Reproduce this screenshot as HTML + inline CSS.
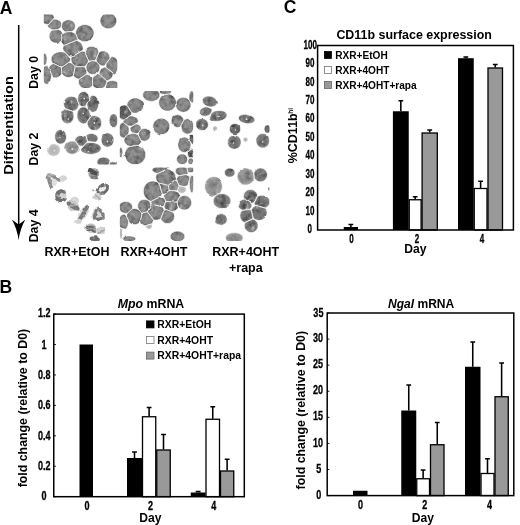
<!DOCTYPE html>
<html lang="en"><head><meta charset="utf-8"><title>Figure</title>
<style>
html,body{margin:0;padding:0;background:#fff;overflow:hidden}
svg{display:block;will-change:transform}
text{font-family:"Liberation Sans",Arial,Helvetica,sans-serif;font-weight:bold;fill:#000}
.tk{stroke:#000;stroke-width:0.3px}
.lab{font-size:12.5px}
.leg{font-size:10.4px}
.tk{font-size:11.9px}
.it{font-style:italic}
</style></head><body>
<svg width="520" height="525" viewBox="0 0 520 525">
<defs>
<filter id="cf" x="-5%" y="-5%" width="110%" height="110%" color-interpolation-filters="sRGB">
  <feTurbulence type="fractalNoise" baseFrequency="0.2" numOctaves="2" seed="7" result="n"/>
  <feColorMatrix in="n" type="matrix" values="0 0 0 0 0  0 0 0 0 0  0 0 0 0 0  1.2 0 0 0 -0.52" result="dk"/>
  <feColorMatrix in="n" type="matrix" values="0 0 0 0 1  0 0 0 0 1  0 0 0 0 1  0 -2.0 0 0 0.78" result="lt"/>
  <feColorMatrix in="SourceGraphic" type="matrix" values="1 0 0 0 0  0 1 0 0 0  0 0 1 0 0  -3.5 0 0 0 2.6" result="mk0"/>
  <feComposite in="mk0" in2="SourceAlpha" operator="in" result="mk"/>
  <feComposite in="dk" in2="mk" operator="in" result="dkIn"/>
  <feComposite in="lt" in2="mk" operator="in" result="ltIn"/>
  <feMerge result="m"><feMergeNode in="SourceGraphic"/><feMergeNode in="dkIn"/><feMergeNode in="ltIn"/></feMerge>
  <feTurbulence type="fractalNoise" baseFrequency="0.12" numOctaves="2" seed="21" result="t2"/>
  <feDisplacementMap in="m" in2="t2" scale="2.2" xChannelSelector="R" yChannelSelector="G" result="d2"/>
  <feGaussianBlur in="d2" stdDeviation="0.5"/>
</filter>
<radialGradient id="g1" cx="0.5" cy="0.5" r="0.62"><stop offset="0" stop-color="#939393"/><stop offset="0.55" stop-color="#8b8b8b"/><stop offset="0.85" stop-color="#787878"/><stop offset="1" stop-color="#6c6c6c"/></radialGradient>
<radialGradient id="g2" cx="0.5" cy="0.5" r="0.62"><stop offset="0" stop-color="#727272"/><stop offset="0.6" stop-color="#6a6a6a"/><stop offset="1" stop-color="#585858"/></radialGradient>
<radialGradient id="g6" cx="0.5" cy="0.5" r="0.6"><stop offset="0" stop-color="#707070"/><stop offset="0.55" stop-color="#7a7a7a"/><stop offset="0.85" stop-color="#939393"/><stop offset="1" stop-color="#b0b0b0"/></radialGradient>
<radialGradient id="g3" cx="0.5" cy="0.5" r="0.6"><stop offset="0" stop-color="#8a8a8a"/><stop offset="0.6" stop-color="#9a9a9a"/><stop offset="1" stop-color="#b4b4b4"/></radialGradient>
<radialGradient id="g4" cx="0.5" cy="0.5" r="0.6"><stop offset="0" stop-color="#b0b0b0"/><stop offset="0.7" stop-color="#c2c2c2"/><stop offset="1" stop-color="#dcdcdc"/></radialGradient>
<radialGradient id="g5" cx="0.5" cy="0.5" r="0.55"><stop offset="0" stop-color="#d8d8d8"/><stop offset="0.25" stop-color="#7a7a7a"/><stop offset="0.7" stop-color="#808080"/><stop offset="1" stop-color="#a0a0a0"/></radialGradient>
<filter id="cf2" x="-10%" y="-10%" width="120%" height="120%" color-interpolation-filters="sRGB">
  <feTurbulence type="fractalNoise" baseFrequency="0.16" numOctaves="2" seed="11" result="t"/>
  <feDisplacementMap in="SourceGraphic" in2="t" scale="3.4" xChannelSelector="R" yChannelSelector="G" result="d"/>
  <feTurbulence type="fractalNoise" baseFrequency="0.3" numOctaves="2" seed="5" result="n"/>
  <feColorMatrix in="n" type="matrix" values="0 0 0 0 1  0 0 0 0 1  0 0 0 0 1  1.5 0 0 0 -0.78" result="lt"/>
  <feComposite in="lt" in2="d" operator="in" result="ltIn"/>
  <feMerge result="m"><feMergeNode in="d"/><feMergeNode in="ltIn"/></feMerge>
  <feGaussianBlur in="m" stdDeviation="0.55"/>
</filter>

<clipPath id="ct1"><rect x="0" y="0" width="73.5" height="73.5"/></clipPath>
<clipPath id="ct2"><rect x="0" y="0" width="73.5" height="73.5"/></clipPath>
<clipPath id="ct3"><rect x="0" y="0" width="73.5" height="73.5"/></clipPath>
<clipPath id="ct4"><rect x="0" y="0" width="73.5" height="73.5"/></clipPath>
<clipPath id="ct5"><rect x="0" y="0" width="73.5" height="73.5"/></clipPath>
<clipPath id="ct6"><rect x="0" y="0" width="73.5" height="73.5"/></clipPath>
<clipPath id="ct7"><rect x="0" y="0" width="73.5" height="73.5"/></clipPath>
</defs>
<rect width="520" height="525" fill="#fff"/>
<g transform="translate(43.8,14.6)"><g clip-path="url(#ct1)"><g filter="url(#cf)">
<path d="M4.9 9.8 L3.8 9.9 L2.3 9.7 L0.9 9.3 L-0.4 8.6 L-1.5 7.6 L-2.3 6.4 L-2.8 5.2 L-3.0 3.8 L-2.8 2.4 L-2.3 1.2 L-1.5 -0.0 L-0.4 -1.0 L0.9 -1.7 L2.3 -2.1 L3.8 -2.3 L5.3 -2.1 L6.7 -1.7 L8.0 -1.0 L9.1 -0.0 L9.9 1.2 L10.4 2.4 L10.5 3.5Z" fill="url(#g1)" stroke="#fff" stroke-width="0.7" stroke-linejoin="round"/>
<path d="M17.4 12.1 L17.2 12.4 L16.4 13.4 L15.2 14.2 L13.9 14.9 L13.1 15.1 L10.7 15.4 L9.2 15.3 L7.7 14.9 L6.4 14.2 L5.2 13.4 L4.4 12.4 L3.9 11.2 L3.8 11.0 L9.5 4.7 L10.8 4.6 L12.4 4.7 L13.9 5.1 L15.2 5.8 L16.4 6.6 L17.2 7.6 L17.7 8.7Z" fill="url(#g1)" stroke="#fff" stroke-width="0.7" stroke-linejoin="round"/>
<path d="M31.6 11.5 L31.4 12.9 L30.9 14.2 L30.1 15.4 L29.0 16.4 L27.9 17.0 L22.2 17.4 L21.6 17.2 L20.2 16.4 L19.1 15.4 L18.3 14.2 L17.8 12.9 L17.6 11.5 L17.8 10.1 L18.3 8.8 L19.1 7.6 L20.2 6.6 L21.6 5.8 L23.0 5.3 L24.6 5.2 L26.2 5.3 L27.6 5.8 L29.0 6.6 L30.1 7.6 L30.9 8.8 L31.4 10.1Z" fill="url(#g1)" stroke="#fff" stroke-width="0.7" stroke-linejoin="round"/>
<path d="M73.0 6.2 L72.8 8.0 L72.1 9.6 L71.1 11.1 L69.8 12.4 L68.2 13.3 L66.5 13.9 L64.6 14.1 L62.7 13.9 L61.0 13.3 L59.4 12.4 L58.1 11.1 L57.1 9.6 L56.4 8.0 L56.2 6.2 L56.4 4.4 L57.1 2.8 L58.1 1.3 L59.4 0.0 L61.0 -0.9 L62.7 -1.5 L64.6 -1.7 L66.5 -1.5 L68.2 -0.9 L69.8 0.0 L71.1 1.3 L72.1 2.8 L72.8 4.4Z" fill="url(#g1)" stroke="#fff" stroke-width="0.7" stroke-linejoin="round"/>
<path d="M50.3 18.5 L50.0 20.4 L49.3 22.2 L48.2 23.9 L46.8 25.2 L45.0 26.2 L43.1 26.9 L41.0 27.1 L38.9 26.9 L37.0 26.2 L35.2 25.2 L33.8 23.9 L33.5 23.5 L31.8 19.1 L31.7 18.5 L32.0 16.6 L32.7 14.8 L33.8 13.1 L35.2 11.8 L37.0 10.8 L38.9 10.1 L41.0 9.9 L43.1 10.1 L45.0 10.8 L46.8 11.8 L48.2 13.1 L49.3 14.8 L50.0 16.6Z" fill="url(#g1)" stroke="#fff" stroke-width="0.7" stroke-linejoin="round"/>
<path d="M17.5 26.2 L16.7 27.0 L15.3 27.8 L13.9 28.3 L12.3 28.5 L10.7 28.3 L9.3 27.8 L7.9 27.0 L6.8 25.9 L6.0 24.5 L5.5 23.1 L5.3 21.5 L5.5 19.9 L6.0 18.5 L6.8 17.1 L7.9 16.0 L8.4 15.7 L14.5 14.9 L15.3 15.2 L16.7 16.0 L17.8 17.1 L18.6 18.5 L19.0 19.6Z" fill="url(#g1)" stroke="#fff" stroke-width="0.7" stroke-linejoin="round"/>
<path d="M34.0 24.7 L33.9 25.3 L20.5 30.9 L20.0 30.6 L18.7 29.4 L17.7 27.9 L17.3 27.0 L19.0 19.5 L20.0 18.6 L21.7 17.7 L22.7 17.4 L27.1 17.1 L27.3 17.1 L29.1 17.7 L30.8 18.6 L32.1 19.8Z" fill="url(#g1)" stroke="#fff" stroke-width="0.7" stroke-linejoin="round"/>
<path d="M39.4 33.8 L39.1 35.6 L28.5 42.3 L26.9 42.2 L24.8 41.5 L24.4 41.3 L19.3 35.6 L19.0 33.8 L19.3 31.9 L19.6 31.2 L32.7 25.8 L33.6 26.1 L35.5 27.1 L37.2 28.4 L38.4 30.1 L39.1 31.9Z" fill="url(#g1)" stroke="#fff" stroke-width="0.7" stroke-linejoin="round"/>
<path d="M52.1 45.1 L50.8 45.9 L50.2 46.1 L46.6 46.5 L46.1 46.5 L44.6 46.0 L40.7 37.4 L41.2 36.0 L42.0 34.6 L43.2 33.4 L44.6 32.5 L46.1 31.9 L47.7 31.7 L49.3 31.9 L50.8 32.5 L52.2 33.4 L53.4 34.6 L54.2 36.0 L54.8 37.5 L54.8 38.2Z" fill="url(#g1)" stroke="#fff" stroke-width="0.7" stroke-linejoin="round"/>
<path d="M26.7 44.6 L26.5 46.3 L26.1 47.0 L19.3 51.8 L19.2 51.9 L17.0 52.1 L15.8 52.0 L8.9 48.6 L8.2 47.8 L7.5 46.3 L7.3 44.6 L7.5 42.9 L8.2 41.4 L9.4 40.0 L10.9 38.8 L12.8 37.9 L14.8 37.3 L17.0 37.1 L19.2 37.3 L21.2 37.9 L21.4 38.0 L26.6 43.9Z" fill="url(#g1)" stroke="#fff" stroke-width="0.7" stroke-linejoin="round"/>
<path d="M44.7 46.0 L44.6 46.5 L43.9 48.3 L42.9 50.0 L41.5 51.3 L40.1 52.2 L31.9 52.2 L30.9 51.5 L28.5 49.1 L28.1 48.3 L27.4 46.5 L27.2 44.6 L27.4 43.0 L38.1 36.3 L39.8 36.9 L40.7 37.4Z" fill="url(#g1)" stroke="#fff" stroke-width="0.7" stroke-linejoin="round"/>
<path d="M66.2 43.8 L66.2 43.9 L60.8 51.0 L60.8 51.1 L59.2 51.3 L57.6 51.1 L56.2 50.5 L55.5 50.1 L53.2 47.6 L52.9 47.0 L52.4 45.5 L52.3 44.6 L55.0 37.9 L56.2 37.1 L57.6 36.5 L59.2 36.3 L60.8 36.5 L62.2 37.1 L63.6 38.0 L64.7 39.2 L65.5 40.6 L66.0 42.1Z" fill="url(#g1)" stroke="#fff" stroke-width="0.7" stroke-linejoin="round"/>
<path d="M74.8 50.8 L74.7 52.8 L74.2 54.6 L73.4 56.3 L72.4 57.7 L71.2 58.7 L70.4 59.2 L62.5 53.3 L62.3 52.8 L62.2 50.8 L62.3 49.1 L67.5 42.1 L68.5 42.0 L69.9 42.2 L71.2 42.9 L72.4 43.9 L73.4 45.3 L74.2 47.0 L74.7 48.8Z" fill="url(#g1)" stroke="#fff" stroke-width="0.7" stroke-linejoin="round"/>
<path d="M18.0 58.8 L17.9 59.1 L17.1 60.5 L15.9 61.7 L14.6 62.5 L13.1 63.1 L11.5 63.2 L9.9 63.1 L9.2 62.8 L4.8 53.6 L5.1 52.9 L5.9 51.5 L7.1 50.3 L8.4 49.5 L9.7 49.0 L17.8 52.9Z" fill="url(#g1)" stroke="#fff" stroke-width="0.7" stroke-linejoin="round"/>
<path d="M29.7 60.7 L29.2 61.2 L27.8 62.1 L26.3 62.7 L24.6 62.9 L22.9 62.7 L21.4 62.1 L20.0 61.2 L18.8 60.0 L18.0 58.9 L17.8 52.9 L24.8 48.0 L26.3 48.1 L27.8 48.7 L28.7 49.2 L31.0 51.7 L31.3 52.2 L31.4 52.4Z" fill="url(#g1)" stroke="#fff" stroke-width="0.7" stroke-linejoin="round"/>
<path d="M7.7 60.0 L7.6 62.2 L7.3 64.2 L6.7 66.1 L6.0 67.6 L5.1 68.8 L4.1 69.5 L3.0 69.7 L1.9 69.5 L0.9 68.8 L0.0 67.6 L-0.7 66.1 L-1.3 64.2 L-1.6 62.2 L-1.7 60.0 L-1.6 57.8 L-1.3 55.8 L-0.7 53.9 L0.0 52.4 L0.8 51.5 L3.7 51.0 L7.7 59.7Z" fill="url(#g1)" stroke="#fff" stroke-width="0.7" stroke-linejoin="round"/>
<path d="M43.0 57.7 L42.8 59.3 L42.7 59.6 L35.3 64.6 L34.4 64.5 L33.0 64.0 L31.6 63.2 L30.5 62.1 L29.7 60.8 L31.4 52.4 L31.6 52.2 L31.7 52.2 L40.3 52.2 L40.4 52.2 L41.5 53.3 L42.3 54.7 L42.8 56.1Z" fill="url(#g1)" stroke="#fff" stroke-width="0.7" stroke-linejoin="round"/>
<path d="M56.2 53.0 L56.0 54.5 L55.5 55.9 L54.7 57.2 L53.6 58.3 L52.2 59.1 L50.8 59.6 L49.2 59.8 L47.6 59.6 L46.2 59.1 L44.8 58.3 L43.7 57.2 L42.9 55.9 L42.4 54.5 L42.2 53.0 L42.4 51.5 L42.9 50.1 L43.7 48.8 L44.8 47.7 L46.2 46.9 L47.5 46.4 L49.3 46.2 L50.8 46.4 L52.2 46.9 L53.0 47.4 L55.5 50.1 L56.0 51.5Z" fill="url(#g1)" stroke="#fff" stroke-width="0.7" stroke-linejoin="round"/>
<path d="M69.3 59.2 L69.1 60.7 L68.6 62.1 L67.8 63.4 L66.7 64.5 L65.3 65.3 L63.9 65.8 L62.7 65.9 L55.3 59.5 L55.3 59.2 L55.5 57.7 L56.0 56.3 L56.8 55.0 L57.9 53.9 L59.3 53.1 L60.7 52.6 L61.4 52.5 L69.2 58.3Z" fill="url(#g1)" stroke="#fff" stroke-width="0.7" stroke-linejoin="round"/>
<path d="M48.8 70.7 L48.3 71.5 L47.1 72.7 L45.6 73.5 L44.0 74.1 L42.3 74.2 L40.6 74.1 L39.0 73.5 L37.5 72.7 L36.3 71.5 L35.4 70.1 L34.8 68.6 L34.6 67.0 L34.8 65.4 L35.0 64.8 L42.4 59.8 L44.0 59.9 L45.6 60.5 L47.1 61.3 L48.3 62.5 L48.8 63.3Z" fill="url(#g1)" stroke="#fff" stroke-width="0.7" stroke-linejoin="round"/>
<path d="M62.9 67.0 L62.7 68.7 L62.1 70.2 L61.2 71.6 L60.0 72.8 L58.6 73.7 L57.1 74.3 L55.4 74.5 L53.7 74.3 L52.2 73.7 L50.8 72.8 L49.6 71.6 L48.8 70.5 L48.8 63.5 L49.6 62.4 L50.8 61.2 L52.2 60.3 L53.7 59.7 L55.4 59.5 L55.4 59.5 L62.7 66.0Z" fill="url(#g1)" stroke="#fff" stroke-width="0.7" stroke-linejoin="round"/>
<path d="M75.5 71.0 L75.3 72.1 L74.8 73.2 L74.0 74.1 L72.9 74.9 L71.5 75.5 L70.1 75.8 L68.5 76.0 L66.9 75.8 L65.5 75.5 L64.1 74.9 L63.0 74.1 L62.2 73.2 L61.7 72.3 L63.1 67.8 L64.1 67.1 L65.5 66.5 L66.9 66.2 L68.5 66.0 L70.1 66.2 L71.5 66.5 L72.9 67.1 L74.0 67.9 L74.8 68.8 L75.3 69.9Z" fill="url(#g1)" stroke="#fff" stroke-width="0.7" stroke-linejoin="round"/>
<path d="M3.3 44.6 L3.2 45.9 L3.0 47.1 L2.7 48.3 L2.3 49.2 L1.8 49.9 L1.2 50.3 L0.6 50.5 L-0.0 50.3 L-0.6 49.9 L-1.1 49.2 L-1.5 48.3 L-1.8 47.1 L-2.0 45.9 L-2.1 44.6 L-2.0 43.3 L-1.8 42.1 L-1.5 40.9 L-1.1 40.0 L-0.6 39.3 L-0.0 38.9 L0.6 38.7 L1.2 38.9 L1.8 39.3 L2.3 40.0 L2.7 40.9 L3.0 42.1 L3.2 43.3Z" fill="url(#g1)" stroke="#fff" stroke-width="0.7" stroke-linejoin="round"/>
</g></g></g>
<g transform="translate(43.8,91.0)"><g clip-path="url(#ct2)"><g filter="url(#cf)">
<path d="M35.3 13.5 L35.1 14.5 L34.6 16.1 L33.6 17.5 L32.4 18.8 L30.9 19.7 L29.2 20.2 L28.8 20.3 L22.0 18.1 L21.4 17.5 L20.4 16.1 L19.9 14.5 L19.7 12.8 L19.9 11.1 L20.4 9.5 L21.4 8.1 L22.6 6.8 L24.1 5.9 L25.8 5.4 L27.5 5.2 L29.2 5.4 L30.9 5.9 L32.4 6.8 L33.0 7.4Z" fill="url(#g6)" stroke="#fff" stroke-width="0.7" stroke-linejoin="round"/>
<path d="M41.6 15.6 L41.1 15.8 L40.6 15.9 L39.0 15.9 L38.5 15.8 L37.2 15.3 L36.0 14.3 L35.2 13.2 L33.9 9.8 L33.8 8.2 L33.9 6.5 L34.4 4.8 L35.1 3.3 L36.0 2.1 L37.2 1.1 L38.5 0.6 L39.8 0.4 L41.1 0.6 L42.4 1.1 L43.6 2.1 L44.5 3.3 L45.2 4.8 L45.7 6.5 L45.8 7.3Z" fill="url(#g6)" stroke="#fff" stroke-width="0.7" stroke-linejoin="round"/>
<path d="M55.0 12.8 L54.9 14.7 L54.4 16.5 L53.7 18.1 L52.8 19.5 L51.6 20.5 L50.3 21.1 L49.0 21.3 L48.0 21.2 L44.4 18.2 L44.3 18.1 L43.6 16.5 L43.1 14.7 L43.0 12.9 L47.0 4.8 L47.7 4.5 L49.0 4.3 L50.3 4.5 L51.6 5.1 L52.8 6.1 L53.7 7.5 L54.4 9.1 L54.9 10.9Z" fill="url(#g6)" stroke="#fff" stroke-width="0.7" stroke-linejoin="round"/>
<path d="M30.2 25.0 L30.0 26.7 L29.6 28.4 L28.8 29.9 L27.8 31.1 L26.5 32.1 L25.1 32.6 L23.7 32.8 L22.3 32.6 L20.9 32.1 L19.6 31.1 L18.6 29.9 L17.8 28.4 L17.4 26.7 L17.2 25.0 L17.4 23.3 L17.8 21.6 L18.6 20.1 L19.6 18.9 L20.9 17.9 L21.1 17.9 L28.9 20.3 L29.6 21.6 L30.0 23.3Z" fill="url(#g6)" stroke="#fff" stroke-width="0.7" stroke-linejoin="round"/>
<path d="M46.5 24.3 L46.4 26.2 L46.1 27.0 L42.4 32.2 L41.3 32.7 L39.8 32.9 L38.3 32.7 L36.9 32.1 L35.6 31.0 L34.5 29.7 L33.7 28.0 L33.2 26.2 L33.1 24.3 L33.2 22.4 L33.7 20.6 L34.5 18.9 L35.6 17.6 L36.9 16.5 L38.2 15.9 L41.4 15.9 L41.6 16.0 L44.8 18.6 L45.1 18.9 L45.9 20.6 L46.4 22.4Z" fill="url(#g6)" stroke="#fff" stroke-width="0.7" stroke-linejoin="round"/>
<path d="M57.9 32.0 L57.7 33.7 L57.2 35.3 L56.3 36.7 L55.1 38.0 L53.8 38.9 L52.2 39.4 L50.6 39.6 L49.0 39.4 L47.4 38.9 L46.1 38.0 L44.9 36.7 L44.0 35.3 L43.5 33.7 L43.3 32.0 L43.5 30.8 L47.5 25.1 L49.0 24.6 L50.6 24.4 L52.2 24.6 L53.8 25.1 L55.1 26.0 L56.3 27.3 L57.2 28.7 L57.7 30.3Z" fill="url(#g6)" stroke="#fff" stroke-width="0.7" stroke-linejoin="round"/>
<path d="M74.3 29.7 L74.2 31.2 L73.8 32.7 L73.3 34.0 L72.6 35.1 L71.7 36.0 L70.8 36.5 L69.8 36.6 L68.8 36.5 L67.9 36.0 L67.0 35.1 L66.3 34.0 L65.8 32.7 L65.4 31.2 L65.3 29.7 L65.4 28.2 L65.8 26.7 L66.3 25.4 L67.0 24.3 L67.9 23.4 L68.8 22.9 L69.8 22.8 L70.8 22.9 L71.7 23.4 L72.6 24.3 L73.3 25.4 L73.8 26.7 L74.2 28.2Z" fill="url(#g6)" stroke="#fff" stroke-width="0.7" stroke-linejoin="round"/>
<path d="M22.8 45.8 L22.7 47.4 L22.2 49.0 L21.5 50.3 L20.6 51.5 L19.4 52.4 L18.1 52.9 L16.8 53.1 L15.5 52.9 L14.2 52.4 L13.0 51.5 L12.1 50.3 L11.4 49.0 L10.9 47.4 L10.8 45.8 L10.9 44.2 L11.4 42.6 L12.1 41.3 L13.0 40.1 L14.2 39.2 L15.5 38.7 L16.8 38.5 L18.1 38.7 L19.4 39.2 L20.6 40.1 L21.5 41.3 L22.2 42.6 L22.7 44.2Z" fill="url(#g6)" stroke="#fff" stroke-width="0.7" stroke-linejoin="round"/>
<path d="M39.7 55.2 L38.3 55.3 L36.7 55.2 L35.1 54.7 L34.6 54.5 L31.1 49.4 L31.2 48.5 L31.7 47.3 L32.6 46.2 L33.8 45.3 L35.1 44.7 L36.7 44.2 L38.3 44.1 L39.9 44.2 L41.5 44.7 L42.5 45.1 L43.8 50.6Z" fill="url(#g6)" stroke="#fff" stroke-width="0.7" stroke-linejoin="round"/>
<path d="M54.2 47.4 L54.1 48.5 L53.6 49.5 L52.8 50.5 L51.8 51.2 L43.8 50.6 L42.3 44.3 L43.3 43.5 L44.6 43.0 L46.0 42.6 L47.5 42.5 L49.0 42.6 L50.4 43.0 L51.7 43.5 L52.8 44.3 L53.6 45.3 L54.1 46.3Z" fill="url(#g6)" stroke="#fff" stroke-width="0.7" stroke-linejoin="round"/>
<path d="M70.2 49.0 L70.0 50.6 L69.6 52.1 L68.8 53.5 L67.8 54.6 L66.5 55.5 L65.1 56.0 L63.7 56.2 L62.3 56.0 L60.9 55.5 L59.6 54.6 L58.6 53.5 L57.8 52.1 L57.4 50.6 L57.2 49.0 L57.4 47.4 L57.8 45.9 L58.6 44.5 L59.6 43.4 L60.9 42.5 L62.3 42.0 L63.7 41.8 L65.1 42.0 L66.5 42.5 L67.8 43.4 L68.8 44.5 L69.6 45.9 L70.0 47.4Z" fill="url(#g6)" stroke="#fff" stroke-width="0.7" stroke-linejoin="round"/>
<path d="M57.4 57.4 L57.2 58.7 L56.4 60.0 L55.1 61.2 L53.4 62.1 L51.4 62.8 L49.2 63.3 L46.8 63.4 L44.4 63.3 L42.2 62.8 L40.2 62.1 L38.5 61.2 L37.2 60.0 L36.4 58.8 L42.7 51.8 L44.4 51.5 L46.8 51.4 L49.2 51.5 L51.4 52.0 L53.4 52.7 L55.1 53.6 L56.4 54.8 L57.2 56.1Z" fill="url(#g6)" stroke="#fff" stroke-width="0.7" stroke-linejoin="round"/>
<path d="M35.5 56.6 L35.3 58.1 L34.8 59.5 L33.9 60.8 L32.8 61.9 L31.4 62.7 L29.9 63.2 L28.3 63.3 L26.7 63.2 L25.2 62.7 L23.8 61.9 L22.7 60.8 L21.8 59.5 L21.3 58.1 L21.1 56.6 L21.3 55.1 L21.8 53.7 L22.7 52.4 L23.8 51.3 L25.2 50.5 L26.7 50.0 L28.3 49.9 L29.9 50.0 L31.4 50.5 L32.2 51.0 L35.3 55.6Z" fill="url(#g3)" stroke="#fff" stroke-width="0.7" stroke-linejoin="round"/>
<path d="M16.5 59.0 L16.4 60.4 L15.9 61.7 L15.1 62.9 L14.0 63.9 L12.7 64.7 L11.3 65.1 L9.8 65.3 L8.3 65.1 L6.9 64.7 L5.6 63.9 L4.5 62.9 L3.7 61.7 L3.2 60.4 L3.1 59.0 L3.2 57.6 L3.7 56.3 L4.5 55.1 L5.6 54.1 L6.9 53.3 L8.3 52.9 L9.8 52.7 L11.3 52.9 L12.7 53.3 L14.0 54.1 L15.1 55.1 L15.9 56.3 L16.4 57.6Z" fill="url(#g4)" stroke="#fff" stroke-width="0.7" stroke-linejoin="round"/>
<path d="M65.3 73.8 L65.1 74.1 L64.0 74.9 L62.7 75.4 L61.3 75.8 L59.8 75.9 L58.3 75.8 L56.9 75.4 L55.6 74.9 L54.5 74.1 L53.7 73.1 L53.2 72.1 L53.1 71.0 L53.2 69.9 L53.7 68.9 L54.5 67.9 L55.6 67.1 L56.9 66.6 L58.3 66.2 L59.8 66.1 L61.3 66.2 L62.7 66.6 L64.0 67.1 L65.1 67.9 L65.9 68.9 L66.2 69.6Z" fill="url(#g6)" stroke="#fff" stroke-width="0.7" stroke-linejoin="round"/>
<path d="M73.5 73.0 L73.4 73.5 L73.0 74.0 L72.5 74.4 L71.8 74.8 L70.9 75.0 L70.0 75.2 L69.0 75.2 L68.0 75.2 L67.1 75.0 L66.2 74.8 L65.5 74.4 L65.2 74.1 L65.8 71.5 L66.2 71.2 L67.1 71.0 L68.0 70.8 L69.0 70.8 L70.0 70.8 L70.9 71.0 L71.8 71.2 L72.5 71.6 L73.0 72.0 L73.4 72.5Z" fill="url(#g6)" stroke="#fff" stroke-width="0.7" stroke-linejoin="round"/>
<circle cx="40.5" cy="7.6" r="0.9" fill="#e4e4e4"/>
<circle cx="24.5" cy="28" r="0.8" fill="#e4e4e4"/>
<circle cx="50.6" cy="32" r="0.9" fill="#e4e4e4"/>
<circle cx="16.2" cy="46.5" r="0.8" fill="#e4e4e4"/>
<circle cx="63.7" cy="50.5" r="0.9" fill="#e4e4e4"/>
<circle cx="28.5" cy="58" r="1.0" fill="#e4e4e4"/>
<circle cx="10.5" cy="59.5" r="1.0" fill="#e4e4e4"/>
<circle cx="44.5" cy="60.5" r="0.7" fill="#e4e4e4"/>
<circle cx="39.5" cy="22.5" r="0.8" fill="#e4e4e4"/>
</g></g></g>
<g transform="translate(43.8,167.4)"><g clip-path="url(#ct3)"><g filter="url(#cf2)">

<g fill="none" stroke-linecap="round" stroke-linejoin="round">
<ellipse cx="19" cy="11" rx="4.2" ry="3.4" fill="#d4d4d4"/>
<ellipse cx="9" cy="14" rx="4.5" ry="5" fill="#dedede"/>
<path d="M4.4 8.4 Q5.4 14.5 7.4 20" stroke="#8a8a8a" stroke-width="3.64"/>
<path d="M5 7.4 Q10.5 7.6 15 12.8" stroke="#8c8c8c" stroke-width="3.12"/>
<ellipse cx="17" cy="28.3" rx="5.6" ry="6" fill="#d0d0d0"/>
<path d="M20.5 24.6 A4.6 4.8 0 1 0 21 31.6" stroke="#6e6e6e" stroke-width="3.51"/>
<ellipse cx="31" cy="33" rx="4.2" ry="3.6" fill="#d6d6d6"/>
<ellipse cx="29.5" cy="38.5" rx="6.4" ry="4.6" fill="#c6c6c6" transform="rotate(30 29.5 38.5)"/>
<path d="M24.6 36 Q29 37.5 34 41.6" stroke="#747474" stroke-width="3.90"/>
<ellipse cx="50" cy="6" rx="5.4" ry="5.4" fill="#9a9a9a"/>
<path d="M46.4 2.6 Q49 5 52.5 6.2" stroke="#4e4e4e" stroke-width="4.16"/>
<ellipse cx="51.5" cy="10" rx="3.6" ry="1.8" fill="#7a7a7a"/>
<ellipse cx="59" cy="21.6" rx="5.4" ry="3.7" transform="rotate(-42 59 21.6)" stroke="#6a6a6a" stroke-width="2.99" fill="#e8e8e8"/>
<ellipse cx="53.2" cy="29.6" rx="4.6" ry="3.8" fill="#d2d2d2"/>
<ellipse cx="50" cy="22.4" rx="1.6" ry="1.4" fill="#a0a0a0"/>
<path d="M51 27 Q53.5 30.5 56 31.6" stroke="#b0b0b0" stroke-width="2.08"/>
<ellipse cx="39.5" cy="46" rx="4.2" ry="8.6" fill="#d8d8d8" transform="rotate(32 39.5 46)"/>
<path d="M43.4 39.4 Q40 45.5 35.6 52.4" stroke="#767676" stroke-width="3.77"/>
<ellipse cx="34" cy="54.2" rx="3.6" ry="3" fill="#d4d4d4"/>
<ellipse cx="54.4" cy="47" rx="6.4" ry="6.6" fill="#d6d6d6"/>
<path d="M50.6 51.6 Q50.4 44.4 54 41.8 Q59.6 43.6 59.4 49.6 Q57 52.6 52.6 51.8" stroke="#767676" stroke-width="3.25"/>
<ellipse cx="47" cy="60.8" rx="5.6" ry="4.6" fill="#bdbdbd"/>
<path d="M43.6 60 Q47 58.6 50.4 60.6 M44.4 63.4 Q47.6 62.6 51 64" stroke="#6c6c6c" stroke-width="2.86"/>
<ellipse cx="56.8" cy="63.4" rx="4.6" ry="4.2" fill="#cfcfcf"/>
<path d="M54 66.6 Q57.6 66 59.8 63" stroke="#a4a4a4" stroke-width="2.08"/>
<ellipse cx="51.4" cy="71.3" rx="4.6" ry="2.4" fill="#6a6a6a"/>
</g>

</g></g></g>
<g transform="translate(119.8,91.0)"><g clip-path="url(#ct4)"><g filter="url(#cf)">
<path d="M40.1 4.0 L39.9 5.4 L39.2 6.8 L38.2 8.0 L36.8 9.0 L35.2 9.7 L33.4 10.2 L31.5 10.4 L29.6 10.2 L27.8 9.7 L26.2 9.0 L24.8 8.0 L23.8 6.8 L23.1 5.4 L22.9 4.0 L23.1 2.6 L23.8 1.2 L24.8 0.0 L26.2 -1.0 L27.8 -1.7 L29.6 -2.2 L31.5 -2.4 L33.4 -2.2 L35.2 -1.7 L36.8 -1.0 L38.2 0.0 L39.2 1.2 L39.9 2.6Z" fill="url(#g1)" stroke="#fff" stroke-width="0.7" stroke-linejoin="round"/>
<path d="M52.6 0.8 L52.4 1.4 L51.9 1.9 L51.2 2.4 L50.1 2.9 L49.5 3.0 L47.2 3.4 L46.0 3.4 L44.5 3.4 L43.1 3.2 L41.9 2.9 L40.8 2.4 L40.1 1.9 L39.9 1.8 L39.6 0.2 L39.6 0.2 L40.1 -0.3 L40.8 -0.8 L41.9 -1.3 L43.1 -1.6 L44.5 -1.8 L46.0 -1.8 L47.5 -1.8 L48.9 -1.6 L50.1 -1.3 L51.2 -0.8 L51.9 -0.3 L52.4 0.2Z" fill="url(#g1)" stroke="#fff" stroke-width="0.7" stroke-linejoin="round"/>
<path d="M55.9 14.5 L55.6 15.2 L54.6 16.8 L53.2 18.2 L51.5 19.2 L49.7 19.9 L47.7 20.1 L45.7 19.9 L43.9 19.2 L42.2 18.2 L40.8 16.8 L39.8 15.2 L39.1 13.4 L38.9 11.5 L39.1 9.6 L39.8 7.8 L40.8 6.2 L42.2 4.8 L43.6 4.0 L49.1 3.1 L49.7 3.1 L51.5 3.8 L53.2 4.8 L54.6 6.2 L55.6 7.8 L56.3 9.6 L56.4 10.9Z" fill="url(#g1)" stroke="#fff" stroke-width="0.7" stroke-linejoin="round"/>
<path d="M71.2 13.8 L71.0 15.5 L70.4 17.0 L69.5 18.5 L68.3 19.6 L66.8 20.5 L65.2 21.1 L63.5 21.3 L61.8 21.1 L60.2 20.5 L58.7 19.6 L57.5 18.5 L56.6 17.0 L56.0 15.5 L55.9 14.6 L56.4 11.0 L56.6 10.6 L57.5 9.1 L58.7 8.0 L60.2 7.1 L61.8 6.5 L63.5 6.3 L65.2 6.5 L66.8 7.1 L68.3 8.0 L68.4 8.1 L69.8 9.6 L70.4 10.6 L71.0 12.1Z" fill="url(#g1)" stroke="#fff" stroke-width="0.7" stroke-linejoin="round"/>
<path d="M74.9 6.0 L74.8 7.4 L74.6 8.7 L74.2 9.8 L73.8 10.8 L73.2 11.5 L72.6 12.0 L72.1 12.1 L69.6 9.4 L69.4 8.7 L69.2 7.4 L69.1 6.0 L69.2 4.6 L69.4 3.3 L69.8 2.2 L70.2 1.2 L70.8 0.5 L71.4 -0.0 L72.0 -0.2 L72.6 -0.0 L73.2 0.5 L73.8 1.2 L74.2 2.2 L74.6 3.3 L74.8 4.6Z" fill="url(#g1)" stroke="#fff" stroke-width="0.7" stroke-linejoin="round"/>
<path d="M23.8 14.6 L23.6 16.3 L22.9 17.9 L21.9 19.4 L20.6 20.6 L19.0 21.5 L17.3 22.1 L15.4 22.3 L13.5 22.1 L11.8 21.5 L11.8 21.5 L7.1 14.2 L7.2 12.9 L7.9 11.3 L8.9 9.8 L10.2 8.6 L11.8 7.7 L13.5 7.1 L15.4 6.9 L17.3 7.1 L19.0 7.7 L20.6 8.6 L21.9 9.8 L22.9 11.3 L23.6 12.9Z" fill="url(#g1)" stroke="#fff" stroke-width="0.7" stroke-linejoin="round"/>
<path d="M11.8 21.7 L11.7 23.2 L11.4 23.9 L4.5 29.0 L3.0 28.8 L1.5 28.2 L0.1 27.3 L-1.1 26.2 L-1.9 24.7 L-2.5 23.2 L-2.7 21.5 L-2.5 19.8 L-1.9 18.3 L-1.1 16.8 L0.1 15.7 L1.5 14.8 L3.0 14.2 L4.6 14.0 L6.2 14.2 L7.3 14.6Z" fill="url(#g2)" stroke="#fff" stroke-width="0.7" stroke-linejoin="round"/>
<path d="M18.5 30.0 L18.3 31.1 L18.1 31.5 L13.1 34.8 L12.5 34.9 L10.8 35.1 L9.1 34.9 L7.5 34.6 L3.5 31.5 L3.3 31.1 L3.1 30.0 L10.0 25.0 L10.8 24.9 L12.5 25.1 L14.1 25.4 L15.6 26.0 L16.8 26.8 L17.7 27.8 L18.3 28.9Z" fill="url(#g1)" stroke="#fff" stroke-width="0.7" stroke-linejoin="round"/>
<path d="M9.3 39.2 L9.2 40.9 L8.8 42.5 L8.3 43.5 L4.8 46.7 L3.8 46.9 L2.6 46.7 L1.4 46.1 L0.4 45.2 L-0.5 44.0 L-1.2 42.5 L-1.6 40.9 L-1.7 39.2 L-1.6 37.5 L-1.2 35.9 L-0.5 34.4 L0.4 33.2 L1.4 32.3 L2.6 31.7 L3.5 31.5 L8.5 35.3 L8.8 35.9 L9.2 37.5Z" fill="url(#g1)" stroke="#fff" stroke-width="0.7" stroke-linejoin="round"/>
<path d="M21.3 37.7 L21.2 38.4 L18.9 41.6 L18.2 42.1 L17.0 42.4 L16.1 42.5 L12.7 41.7 L12.4 41.5 L11.5 40.7 L10.8 39.8 L10.5 39.0 L10.3 37.5 L10.4 36.6 L10.5 36.5 L16.0 32.9 L17.0 33.0 L18.2 33.3 L19.2 33.9 L20.1 34.7 L20.8 35.6 L21.2 36.6Z" fill="url(#g1)" stroke="#fff" stroke-width="0.7" stroke-linejoin="round"/>
<path d="M30.5 43.8 L30.4 45.2 L30.0 46.6 L29.2 47.8 L28.3 48.8 L27.2 49.5 L25.9 50.0 L24.6 50.2 L23.3 50.0 L22.0 49.5 L20.9 48.8 L20.6 48.4 L18.7 44.5 L18.7 43.8 L18.8 42.4 L19.1 41.3 L20.9 38.8 L22.0 38.1 L23.3 37.6 L24.6 37.4 L25.9 37.6 L27.2 38.1 L28.3 38.8 L29.2 39.8 L30.0 41.0 L30.4 42.4Z" fill="url(#g1)" stroke="#fff" stroke-width="0.7" stroke-linejoin="round"/>
<path d="M21.6 50.6 L21.6 50.7 L20.9 52.1 L19.9 53.3 L18.8 54.2 L10.6 55.5 L9.2 55.1 L7.5 54.4 L6.1 53.3 L5.1 52.1 L4.4 50.7 L4.2 49.2 L4.4 47.7 L5.0 46.6 L7.9 43.8 L9.2 43.3 L11.0 42.8 L13.0 42.6 L15.0 42.8 L16.8 43.3 L18.5 44.0 L18.5 44.1Z" fill="url(#g1)" stroke="#fff" stroke-width="0.7" stroke-linejoin="round"/>
<path d="M50.0 35.4 L49.8 37.2 L49.1 39.0 L48.1 40.5 L46.8 41.9 L45.2 42.8 L43.4 43.4 L41.5 43.6 L39.6 43.4 L37.8 42.8 L36.2 41.9 L34.9 40.5 L33.9 39.0 L33.2 37.2 L33.0 35.4 L33.2 33.6 L33.9 31.8 L34.9 30.3 L36.2 28.9 L37.8 28.0 L39.6 27.4 L41.5 27.1 L43.4 27.4 L45.2 28.0 L46.8 28.9 L48.1 30.3 L49.1 31.8 L49.8 33.6Z" fill="url(#g1)" stroke="#fff" stroke-width="0.7" stroke-linejoin="round"/>
<path d="M60.7 35.6 L60.5 35.7 L59.1 36.2 L57.7 36.4 L56.3 36.2 L54.9 35.7 L53.7 35.0 L52.7 34.0 L52.0 32.8 L51.5 31.4 L51.3 30.0 L51.5 28.6 L52.0 27.2 L52.7 26.0 L53.7 25.0 L54.9 24.3 L56.3 23.8 L57.7 23.6 L59.1 23.8 L60.5 24.3 L61.7 25.0 L62.7 26.0 L63.4 27.2 L63.9 28.6 L64.0 29.5Z" fill="url(#g1)" stroke="#fff" stroke-width="0.7" stroke-linejoin="round"/>
<path d="M74.1 35.4 L73.9 37.1 L73.4 38.7 L72.7 40.2 L71.7 41.4 L70.5 42.3 L69.1 42.9 L67.7 43.1 L66.3 42.9 L64.9 42.3 L63.7 41.4 L62.7 40.2 L62.0 38.7 L61.5 37.1 L61.3 35.4 L61.4 34.3 L64.3 28.9 L64.9 28.5 L66.3 27.9 L67.7 27.7 L69.1 27.9 L70.5 28.5 L71.7 29.4 L72.7 30.6 L73.4 32.1 L73.9 33.7Z" fill="url(#g1)" stroke="#fff" stroke-width="0.7" stroke-linejoin="round"/>
<path d="M26.0 63.8 L25.7 66.0 L24.9 68.1 L23.7 70.0 L22.0 71.5 L20.0 72.7 L17.7 73.5 L15.4 73.7 L13.1 73.5 L10.8 72.7 L8.8 71.5 L7.1 70.0 L5.9 68.1 L5.1 66.0 L4.8 63.8 L5.1 61.6 L5.9 59.5 L7.1 57.6 L8.8 56.1 L9.4 55.7 L18.1 54.3 L20.0 54.9 L22.0 56.1 L23.7 57.6 L24.9 59.5 L25.7 61.6Z" fill="url(#g1)" stroke="#fff" stroke-width="0.7" stroke-linejoin="round"/>
<path d="M3.0 61.5 L2.9 62.6 L2.8 63.7 L2.5 64.7 L2.2 65.5 L1.8 66.1 L1.3 66.4 L0.8 66.6 L0.3 66.4 L-0.2 66.1 L-0.6 65.5 L-0.9 64.7 L-1.2 63.7 L-1.3 62.6 L-1.4 61.5 L-1.3 60.4 L-1.2 59.3 L-0.9 58.3 L-0.6 57.5 L-0.2 56.9 L0.3 56.6 L0.8 56.4 L1.3 56.6 L1.8 56.9 L2.2 57.5 L2.5 58.3 L2.8 59.3 L2.9 60.4Z" fill="url(#g1)" stroke="#fff" stroke-width="0.7" stroke-linejoin="round"/>
<path d="M71.2 53.8 L71.0 55.5 L70.5 57.1 L69.8 58.6 L66.2 61.2 L66.1 61.3 L64.6 61.5 L63.1 61.3 L61.7 60.7 L60.5 59.8 L59.4 58.6 L58.7 57.1 L58.2 55.5 L58.0 53.8 L58.2 52.1 L58.7 50.5 L59.4 49.0 L60.5 47.8 L61.7 46.9 L63.1 46.3 L64.6 46.1 L66.1 46.3 L67.5 46.9 L68.1 47.3 L70.7 51.0 L71.0 52.1Z" fill="url(#g1)" stroke="#fff" stroke-width="0.7" stroke-linejoin="round"/>
<path d="M74.6 48.5 L74.6 49.6 L74.4 50.7 L74.1 51.7 L73.6 52.5 L73.1 53.1 L72.6 53.4 L72.5 53.5 L69.4 49.1 L69.4 48.5 L69.4 47.4 L69.6 46.3 L69.9 45.3 L70.4 44.5 L70.9 43.9 L71.4 43.6 L72.0 43.4 L72.6 43.6 L73.1 43.9 L73.6 44.5 L74.1 45.3 L74.4 46.3 L74.6 47.4Z" fill="url(#g2)" stroke="#fff" stroke-width="0.7" stroke-linejoin="round"/>
<path d="M67.8 68.2 L67.7 69.4 L67.3 70.5 L66.6 71.5 L65.7 72.3 L64.7 73.0 L63.5 73.3 L62.3 73.5 L61.1 73.3 L59.9 73.0 L58.9 72.3 L58.0 71.5 L57.3 70.5 L56.9 69.4 L56.8 68.2 L56.9 67.0 L57.3 65.9 L58.0 64.9 L58.9 64.1 L59.9 63.4 L61.1 63.1 L62.3 62.9 L63.5 63.1 L64.7 63.4 L65.7 64.1 L66.6 64.9 L67.3 65.9 L67.7 67.0Z" fill="url(#g1)" stroke="#fff" stroke-width="0.7" stroke-linejoin="round"/>
<path d="M74.3 62.3 L74.2 63.4 L74.0 64.5 L73.6 65.5 L73.1 66.3 L72.5 66.8 L69.5 66.8 L68.9 66.3 L68.4 65.5 L68.0 64.5 L67.8 63.4 L67.7 62.3 L67.8 61.2 L68.0 60.1 L68.2 59.8 L71.4 57.3 L71.7 57.4 L72.4 57.7 L73.1 58.3 L73.6 59.1 L74.0 60.1 L74.2 61.2Z" fill="url(#g2)" stroke="#fff" stroke-width="0.7" stroke-linejoin="round"/>
<path d="M73.9 70.4 L73.8 71.1 L73.6 71.8 L73.2 72.5 L72.8 73.0 L72.2 73.4 L71.6 73.6 L71.0 73.7 L70.4 73.6 L69.8 73.4 L69.2 73.0 L68.8 72.5 L68.4 71.8 L68.2 71.1 L68.1 70.4 L68.2 69.7 L68.4 69.0 L68.8 68.3 L69.2 67.8 L69.8 67.4 L70.4 67.2 L71.0 67.1 L71.6 67.2 L72.2 67.4 L72.8 67.8 L73.2 68.3 L73.6 69.0 L73.8 69.7Z" fill="url(#g1)" stroke="#fff" stroke-width="0.7" stroke-linejoin="round"/>
</g></g></g>
<g transform="translate(119.8,167.4)"><g clip-path="url(#ct5)"><g filter="url(#cf)">
<path d="M38.1 6.2 L37.9 6.1 L36.0 5.7 L34.4 5.0 L33.2 4.2 L32.5 3.4 L32.2 2.5 L32.5 1.6 L33.2 0.8 L34.4 -0.0 L36.0 -0.7 L37.9 -1.1 L40.1 -1.4 L42.3 -1.5 L44.5 -1.4 L46.7 -1.1 L48.6 -0.7 L50.2 -0.0 L50.4 0.1Z" fill="url(#g1)" stroke="#fff" stroke-width="0.7" stroke-linejoin="round"/>
<path d="M68.3 5.9 L67.6 6.7 L67.1 7.1 L60.1 8.2 L59.4 8.0 L58.1 7.5 L57.0 6.7 L56.2 5.8 L55.7 4.8 L55.6 3.8 L55.7 2.8 L56.2 1.8 L57.0 0.9 L58.1 0.1 L59.4 -0.4 L60.8 -0.8 L62.3 -0.9 L63.8 -0.8 L65.2 -0.4 L66.5 0.1 L67.3 0.7Z" fill="url(#g1)" stroke="#fff" stroke-width="0.7" stroke-linejoin="round"/>
<path d="M74.6 2.3 L74.5 2.9 L74.2 3.6 L73.8 4.1 L73.2 4.6 L72.5 4.9 L71.6 5.1 L70.8 5.2 L70.0 5.1 L69.1 4.9 L68.4 4.6 L68.0 4.2 L67.4 1.0 L67.8 0.5 L68.4 0.0 L69.1 -0.3 L70.0 -0.5 L70.8 -0.6 L71.6 -0.5 L72.5 -0.3 L73.2 0.0 L73.8 0.5 L74.2 1.0 L74.5 1.7Z" fill="url(#g1)" stroke="#fff" stroke-width="0.7" stroke-linejoin="round"/>
<path d="M56.1 10.0 L55.8 11.9 L55.8 12.0 L48.6 17.9 L38.7 15.7 L37.7 14.8 L36.9 13.7 L36.2 11.9 L35.9 10.0 L36.2 8.1 L36.7 6.9 L47.5 1.5 L48.2 1.6 L50.4 2.2 L52.3 3.3 L53.9 4.6 L55.1 6.3 L55.8 8.1Z" fill="url(#g1)" stroke="#fff" stroke-width="0.7" stroke-linejoin="round"/>
<path d="M68.0 17.9 L67.0 18.4 L65.4 18.9 L63.8 19.0 L63.1 19.0 L61.1 18.6 L60.6 18.4 L59.3 17.7 L58.9 17.4 L56.5 12.8 L56.7 11.7 L57.2 10.4 L58.1 9.2 L59.2 8.4 L65.9 7.3 L67.0 7.6 L68.3 8.3 L69.5 9.2 L70.2 10.2Z" fill="url(#g1)" stroke="#fff" stroke-width="0.7" stroke-linejoin="round"/>
<path d="M74.5 15.4 L74.4 17.6 L74.2 19.8 L73.9 21.7 L73.5 23.3 L73.1 24.5 L72.5 25.2 L72.0 25.5 L71.5 25.2 L70.9 24.5 L70.5 23.3 L70.1 21.7 L69.8 19.8 L69.6 17.6 L69.5 15.4 L69.6 13.2 L69.7 12.1 L70.8 8.4 L73.7 8.1 L73.9 9.1 L74.2 11.0 L74.4 13.2Z" fill="url(#g1)" stroke="#fff" stroke-width="0.7" stroke-linejoin="round"/>
<path d="M66.5 22.0 L66.4 22.9 L66.0 23.7 L65.5 24.5 L64.8 25.2 L63.9 25.6 L63.0 25.9 L62.0 26.0 L61.0 25.9 L60.1 25.6 L59.2 25.2 L58.5 24.5 L58.0 23.7 L57.6 22.9 L57.6 22.6 L59.0 19.0 L59.2 18.8 L60.0 18.4 L65.5 19.5 L65.5 19.5 L66.0 20.3 L66.4 21.1Z" fill="url(#g4)" stroke="#fff" stroke-width="0.7" stroke-linejoin="round"/>
<path d="M45.7 26.4 L45.3 26.6 L43.8 26.7 L42.5 26.6 L38.7 15.7 L48.6 17.9 L49.5 22.9Z" fill="url(#g1)" stroke="#fff" stroke-width="0.7" stroke-linejoin="round"/>
<path d="M59.0 18.5 L59.0 19.1 L57.8 22.2 L57.7 22.3 L56.8 23.2 L56.5 23.4 L49.5 22.9 L48.6 17.9 L54.9 12.8 L55.6 13.1 L56.8 13.8 L57.3 14.3 L58.9 17.5Z" fill="url(#g1)" stroke="#fff" stroke-width="0.7" stroke-linejoin="round"/>
<path d="M42.3 26.0 L42.3 26.1 L41.6 28.3 L41.1 29.1 L31.6 33.9 L30.9 33.8 L29.1 33.2 L28.5 32.8 L27.1 31.9 L25.6 30.2 L24.4 28.3 L23.7 26.1 L23.5 23.8 L23.7 21.5 L24.4 19.3 L25.6 17.4 L27.1 15.7 L28.9 14.5 L30.9 13.8 L33.0 13.5 L35.1 13.8 L37.1 14.5 L38.1 15.2 L38.7 15.7Z" fill="url(#g1)" stroke="#fff" stroke-width="0.7" stroke-linejoin="round"/>
<path d="M57.6 34.0 L56.0 34.6 L55.5 34.8 L47.2 34.1 L46.9 33.9 L45.6 33.0 L45.4 32.8 L43.8 28.6 L43.9 28.1 L48.6 23.8 L48.6 23.8 L50.4 23.3 L52.3 23.2 L54.2 23.3 L56.0 23.8 L57.7 24.5 L58.5 25.0 L60.6 27.9Z" fill="url(#g1)" stroke="#fff" stroke-width="0.7" stroke-linejoin="round"/>
<path d="M71.9 35.4 L71.7 37.0 L71.2 38.5 L70.3 39.9 L69.1 41.0 L67.8 41.9 L66.2 42.4 L64.6 42.6 L63.0 42.4 L61.4 41.9 L60.1 41.0 L58.9 39.9 L58.0 38.5 L57.9 38.0 L57.4 36.0 L57.3 35.4 L57.4 34.3 L59.4 30.5 L60.1 29.8 L61.4 28.9 L63.0 28.4 L64.6 28.2 L66.2 28.4 L67.8 28.9 L69.1 29.8 L70.3 30.9 L71.2 32.3 L71.7 33.8Z" fill="url(#g1)" stroke="#fff" stroke-width="0.7" stroke-linejoin="round"/>
<path d="M44.6 37.9 L44.6 38.0 L43.4 38.8 L42.0 39.4 L31.7 36.8 L31.0 34.2 L40.4 29.4 L41.9 29.8 L43.4 30.4 L44.6 31.2 L44.9 31.5 L45.8 33.9Z" fill="url(#g1)" stroke="#fff" stroke-width="0.7" stroke-linejoin="round"/>
<path d="M58.4 40.2 L58.1 40.9 L57.2 42.0 L56.0 42.9 L54.7 43.5 L53.1 44.0 L51.5 44.1 L51.4 44.1 L46.1 42.2 L45.8 42.0 L44.9 40.9 L44.4 39.7 L44.3 39.1 L45.3 35.6 L45.8 35.0 L47.0 34.1 L47.1 34.1 L57.1 34.9 L57.1 35.0Z" fill="url(#g1)" stroke="#fff" stroke-width="0.7" stroke-linejoin="round"/>
<path d="M27.7 44.3 L27.5 44.4 L26.5 44.7 L25.3 44.9 L24.6 45.0 L23.1 44.8 L21.7 44.4 L20.4 43.6 L19.3 42.6 L18.5 41.3 L18.0 39.9 L17.9 38.5 L18.0 37.1 L18.5 35.7 L19.3 34.4 L20.4 33.4 L21.7 32.6 L23.1 32.2 L24.6 32.0 L26.1 32.2 L27.5 32.6 L28.8 33.4 L29.9 34.4 L30.7 35.7 L31.2 37.1 L31.2 37.6Z" fill="url(#g1)" stroke="#fff" stroke-width="0.7" stroke-linejoin="round"/>
<path d="M41.1 51.2 L39.7 52.1 L37.9 52.7 L36.0 52.9 L34.1 52.7 L33.7 52.5 L27.5 44.5 L31.1 37.9 L32.3 37.1 L32.6 37.0 L42.7 39.6 L43.7 41.0 L44.3 42.8 L44.3 43.0Z" fill="url(#g1)" stroke="#fff" stroke-width="0.7" stroke-linejoin="round"/>
<path d="M54.8 49.2 L54.6 50.7 L54.1 52.2 L53.2 53.5 L52.1 54.6 L50.8 55.5 L49.3 56.0 L47.7 56.1 L46.1 56.0 L44.6 55.5 L43.3 54.6 L42.2 53.5 L41.3 52.2 L41.0 51.3 L44.2 43.2 L44.6 42.9 L46.1 42.4 L46.6 42.4 L53.0 44.7 L53.2 44.9 L54.1 46.2 L54.6 47.7Z" fill="url(#g1)" stroke="#fff" stroke-width="0.7" stroke-linejoin="round"/>
<path d="M12.7 40.0 L12.6 41.3 L7.7 45.8 L7.5 45.9 L6.0 46.0 L4.5 45.9 L3.1 45.4 L1.8 44.7 L0.7 43.8 L-0.1 42.6 L-0.6 41.3 L-0.7 40.0 L-0.6 38.7 L-0.1 37.4 L0.7 36.2 L1.8 35.3 L3.1 34.6 L4.5 34.1 L6.0 34.0 L7.5 34.1 L8.9 34.6 L10.2 35.3 L11.3 36.2 L12.1 37.4 L12.6 38.7Z" fill="url(#g1)" stroke="#fff" stroke-width="0.7" stroke-linejoin="round"/>
<path d="M20.7 54.3 L19.5 55.5 L18.0 56.5 L16.3 57.1 L14.6 57.3 L12.9 57.1 L11.2 56.5 L9.9 55.6 L6.8 49.4 L6.8 49.2 L7.0 47.4 L7.4 46.1 L12.2 41.6 L12.9 41.3 L14.6 41.1 L16.3 41.3 L18.0 41.9 L19.5 42.9 L20.7 44.2 L21.7 45.7 L22.1 46.9Z" fill="url(#g1)" stroke="#fff" stroke-width="0.7" stroke-linejoin="round"/>
<path d="M33.6 52.4 L33.6 53.1 L33.1 54.6 L32.3 56.0 L31.8 56.5 L25.4 58.5 L24.1 58.0 L22.8 57.1 L21.7 56.0 L20.9 54.6 L20.7 54.0 L22.1 46.7 L22.8 45.9 L23.9 45.2 L27.5 44.5Z" fill="url(#g1)" stroke="#fff" stroke-width="0.7" stroke-linejoin="round"/>
<path d="M8.6 54.6 L8.5 56.3 L8.1 58.0 L7.6 59.5 L6.8 60.7 L5.9 61.7 L5.6 61.8 L0.7 60.6 L0.0 59.5 L-0.5 58.0 L-0.9 56.3 L-1.0 54.6 L-0.9 52.9 L-0.5 51.2 L0.0 49.7 L0.8 48.5 L1.7 47.5 L2.7 47.0 L3.8 46.8 L4.9 47.0 L5.8 47.5 L8.5 52.8 L8.5 52.9Z" fill="url(#g1)" stroke="#fff" stroke-width="0.7" stroke-linejoin="round"/>
<path d="M32.6 58.5 L32.5 59.2 L32.2 60.0 L31.8 60.6 L31.3 61.1 L30.7 61.5 L29.9 61.8 L29.2 61.9 L28.5 61.8 L27.7 61.5 L27.1 61.1 L26.6 60.6 L26.2 60.0 L25.9 59.2 L25.8 58.5 L25.9 58.3 L31.9 56.5 L32.2 57.0 L32.5 57.8Z" fill="url(#g4)" stroke="#fff" stroke-width="0.7" stroke-linejoin="round"/>
<path d="M65.0 69.0 L64.8 70.2 L64.3 71.3 L63.4 72.4 L62.2 73.2 L60.9 73.8 L59.3 74.2 L57.7 74.4 L56.1 74.2 L54.5 73.8 L53.2 73.2 L52.0 72.4 L51.1 71.3 L50.6 70.2 L50.4 69.0 L50.6 67.8 L51.1 66.7 L52.0 65.6 L53.2 64.8 L54.5 64.2 L56.1 63.8 L57.7 63.6 L59.3 63.8 L60.9 64.2 L62.2 64.8 L63.4 65.6 L64.3 66.7 L64.8 67.8Z" fill="url(#g1)" stroke="#fff" stroke-width="0.7" stroke-linejoin="round"/>
<path d="M15.9 71.4 L15.8 72.0 L15.3 72.7 L14.5 73.2 L13.4 73.7 L12.1 74.0 L10.7 74.2 L9.2 74.3 L7.7 74.2 L6.3 74.0 L5.0 73.7 L3.9 73.2 L3.1 72.7 L2.6 72.0 L2.5 71.4 L2.6 70.8 L3.2 70.1 L3.9 69.6 L5.0 69.1 L6.3 68.8 L7.7 68.6 L9.2 68.5 L10.7 68.6 L12.1 68.8 L13.4 69.1 L14.5 69.6 L15.3 70.1 L15.8 70.8Z" fill="url(#g1)" stroke="#fff" stroke-width="0.7" stroke-linejoin="round"/>
<path d="M3.0 65.0 L2.9 66.5 L2.8 67.9 L2.6 69.2 L2.3 70.3 L2.0 71.1 L1.6 71.6 L1.2 71.7 L0.8 71.6 L0.4 71.1 L0.1 70.3 L-0.2 69.2 L-0.4 67.9 L-0.5 66.5 L-0.6 65.0 L-0.5 63.5 L-0.4 62.1 L-0.2 60.8 L-0.1 60.4 L2.6 61.1 L2.8 62.1 L2.9 63.5Z" fill="url(#g4)" stroke="#fff" stroke-width="0.7" stroke-linejoin="round"/>
</g></g></g>
<g transform="translate(196.0,91.0)"><g clip-path="url(#ct6)"><g filter="url(#cf)">
<path d="M21.0 12.5 L20.5 13.6 L19.7 14.5 L18.5 15.3 L17.2 15.8 L15.6 16.0 L14.0 16.0 L12.3 15.7 L10.7 15.1 L9.3 14.4 L8.1 13.4 L7.1 12.2 L6.5 11.0 L6.3 9.8 L6.4 8.5 L6.9 7.4 L7.7 6.5 L8.9 5.7 L10.2 5.2 L11.8 5.0 L13.4 5.0 L15.1 5.3 L16.7 5.9 L18.1 6.6 L19.3 7.6 L20.3 8.8 L20.9 10.0 L21.1 11.2Z" fill="url(#g6)" stroke="#fff" stroke-width="0.7" stroke-linejoin="round"/>
<path d="M16.1 18.8 L16.2 19.9 L15.3 22.1 L14.6 23.0 L13.6 23.8 L12.4 24.5 L11.0 25.0 L9.6 25.2 L8.2 25.3 L6.8 25.1 L5.7 24.6 L4.7 24.0 L4.0 23.1 L3.5 22.2 L3.4 21.1 L3.6 20.1 L4.2 19.0 L5.0 18.0 L6.0 17.2 L7.2 16.5 L8.6 16.0 L10.0 15.8 L11.0 15.7 L15.2 17.4 L15.6 17.9Z" fill="url(#g6)" stroke="#fff" stroke-width="0.7" stroke-linejoin="round"/>
<path d="M31.0 23.4 L31.0 24.6 L30.6 25.9 L29.7 27.1 L28.4 28.2 L26.8 29.1 L24.9 29.8 L22.9 30.3 L20.9 30.5 L18.9 30.5 L17.1 30.2 L15.5 29.6 L14.3 28.7 L13.4 27.7 L13.3 27.6 L15.4 22.1 L15.6 21.8 L17.2 20.9 L19.1 20.2 L21.1 19.7 L23.1 19.5 L25.1 19.5 L26.9 19.8 L28.5 20.4 L29.7 21.3 L30.6 22.3Z" fill="url(#g6)" stroke="#fff" stroke-width="0.7" stroke-linejoin="round"/>
<path d="M12.1 35.7 L11.5 36.9 L10.6 38.0 L9.5 38.8 L8.2 39.3 L6.8 39.6 L5.3 39.5 L3.9 39.2 L2.6 38.5 L1.5 37.7 L0.6 36.6 L-0.1 35.3 L-0.4 34.0 L-0.4 32.6 L-0.1 31.3 L0.5 30.1 L1.4 29.0 L2.5 28.2 L3.8 27.7 L5.2 27.4 L6.7 27.5 L8.1 27.8 L9.4 28.5 L10.5 29.3 L11.4 30.4 L12.1 31.7 L12.4 33.0 L12.4 34.4Z" fill="url(#g6)" stroke="#fff" stroke-width="0.7" stroke-linejoin="round"/>
<path d="M58.8 29.4 L58.4 30.4 L57.6 31.3 L56.5 32.0 L55.1 32.5 L53.4 32.7 L51.6 32.8 L49.8 32.6 L48.0 32.1 L46.3 31.5 L44.9 30.7 L43.7 29.7 L42.9 28.7 L42.4 27.6 L42.4 26.6 L42.8 25.6 L43.6 24.7 L44.7 24.0 L46.1 23.5 L47.8 23.3 L49.6 23.2 L51.4 23.4 L53.2 23.9 L54.9 24.5 L56.3 25.3 L57.5 26.3 L58.3 27.3 L58.8 28.4Z" fill="url(#g6)" stroke="#fff" stroke-width="0.7" stroke-linejoin="round"/>
<path d="M44.6 38.0 L44.5 39.2 L44.1 40.3 L43.4 41.4 L42.5 42.2 L41.4 42.9 L40.2 43.3 L39.0 43.4 L37.8 43.3 L36.6 42.9 L35.5 42.2 L34.6 41.4 L33.9 40.3 L33.5 39.2 L33.4 38.0 L33.5 36.8 L33.9 35.7 L34.6 34.6 L35.5 33.8 L36.6 33.1 L37.8 32.7 L39.0 32.6 L40.2 32.7 L41.4 33.1 L42.5 33.8 L43.4 34.6 L44.1 35.7 L44.5 36.8Z" fill="url(#g2)" stroke="#fff" stroke-width="0.7" stroke-linejoin="round"/>
<path d="M45.2 51.2 L45.0 52.8 L44.5 54.3 L43.7 55.6 L42.6 56.8 L41.3 57.6 L39.8 58.1 L38.3 58.3 L36.8 58.1 L35.3 57.6 L34.0 56.8 L32.9 55.6 L32.1 54.3 L31.6 52.8 L31.4 51.2 L31.6 49.6 L32.1 48.1 L32.9 46.8 L34.0 45.6 L35.3 44.8 L36.8 44.3 L38.3 44.1 L39.8 44.3 L41.3 44.8 L42.6 45.6 L43.7 46.8 L44.5 48.1 L45.0 49.6Z" fill="url(#g6)" stroke="#fff" stroke-width="0.7" stroke-linejoin="round"/>
<path d="M73.7 49.7 L73.5 51.3 L73.0 52.9 L72.2 54.3 L71.1 55.4 L69.8 56.3 L68.3 56.9 L66.8 57.0 L65.3 56.9 L63.8 56.3 L62.5 55.4 L61.4 54.3 L60.6 52.9 L60.1 51.3 L59.9 49.7 L60.1 48.1 L60.6 46.5 L61.4 45.1 L62.5 44.0 L63.8 43.1 L65.3 42.5 L66.8 42.4 L68.3 42.5 L69.8 43.1 L71.1 44.0 L72.2 45.1 L73.0 46.5 L73.5 48.1Z" fill="url(#g6)" stroke="#fff" stroke-width="0.7" stroke-linejoin="round"/>
<path d="M74.6 38.0 L74.6 38.9 L74.3 39.8 L73.9 40.6 L73.4 41.2 L72.8 41.7 L72.1 42.0 L71.4 42.1 L70.7 42.0 L70.0 41.7 L69.4 41.2 L68.9 40.6 L68.5 39.8 L68.2 38.9 L68.2 38.0 L68.2 37.1 L68.5 36.2 L68.9 35.4 L69.4 34.8 L70.0 34.3 L70.7 34.0 L71.4 33.9 L72.1 34.0 L72.8 34.3 L73.4 34.8 L73.9 35.4 L74.3 36.2 L74.6 37.1Z" fill="url(#g2)" stroke="#fff" stroke-width="0.7" stroke-linejoin="round"/>
<path d="M21.5 37.4 L21.4 38.0 L21.2 38.5 L20.9 38.9 L20.5 39.3 L20.1 39.6 L19.6 39.8 L19.0 39.9 L18.4 39.8 L17.9 39.6 L17.5 39.3 L17.1 38.9 L16.8 38.5 L16.6 38.0 L16.5 37.4 L16.6 36.8 L16.8 36.3 L17.1 35.9 L17.5 35.5 L17.9 35.2 L18.4 35.0 L19.0 34.9 L19.6 35.0 L20.1 35.2 L20.5 35.5 L20.9 35.9 L21.2 36.3 L21.4 36.8Z" fill="url(#g4)" stroke="#fff" stroke-width="0.7" stroke-linejoin="round"/>
<path d="M52.0 48.6 L51.9 49.2 L51.7 49.7 L51.4 50.1 L51.0 50.5 L50.6 50.8 L50.1 51.0 L49.5 51.1 L48.9 51.0 L48.4 50.8 L48.0 50.5 L47.6 50.1 L47.3 49.7 L47.1 49.2 L47.0 48.6 L47.1 48.0 L47.3 47.5 L47.6 47.1 L48.0 46.7 L48.4 46.4 L48.9 46.2 L49.5 46.1 L50.1 46.2 L50.6 46.4 L51.0 46.7 L51.4 47.1 L51.7 47.5 L51.9 48.0Z" fill="url(#g4)" stroke="#fff" stroke-width="0.7" stroke-linejoin="round"/>
<circle cx="23" cy="25.5" r="0.8" fill="#e4e4e4"/>
<circle cx="6.5" cy="34.5" r="0.8" fill="#e4e4e4"/>
<circle cx="50.6" cy="28.2" r="0.9" fill="#e4e4e4"/>
<circle cx="39.5" cy="39" r="0.7" fill="#e4e4e4"/>
<circle cx="66.5" cy="51" r="0.8" fill="#e4e4e4"/>
<circle cx="37.5" cy="52" r="0.8" fill="#e4e4e4"/>
</g></g></g>
<g transform="translate(196.0,167.4)"><g clip-path="url(#ct7)"><g filter="url(#cf)">
<path d="M39.0 5.2 L38.9 6.2 L38.5 7.2 L37.9 8.1 L37.0 8.8 L36.0 9.4 L34.9 9.7 L33.7 9.8 L32.5 9.7 L31.4 9.4 L30.4 8.8 L29.5 8.1 L28.9 7.2 L28.5 6.2 L28.4 5.2 L28.5 4.2 L28.9 3.2 L29.5 2.3 L30.4 1.6 L31.4 1.0 L32.5 0.7 L33.7 0.6 L34.9 0.7 L36.0 1.0 L37.0 1.6 L37.9 2.3 L38.5 3.2 L38.9 4.2Z" fill="url(#g6)" stroke="#fff" stroke-width="0.7" stroke-linejoin="round"/>
<path d="M58.3 10.6 L58.3 10.9 L57.6 12.8 L56.6 14.4 L55.2 15.8 L53.6 16.8 L51.7 17.5 L49.8 17.7 L47.9 17.5 L46.0 16.8 L44.4 15.8 L43.0 14.4 L42.0 12.8 L41.3 10.9 L41.1 9.0 L41.3 7.1 L42.0 5.2 L43.0 3.6 L44.4 2.2 L46.0 1.2 L47.9 0.5 L49.8 0.3 L51.7 0.5 L53.6 1.2 L55.2 2.2 L56.6 3.6 L57.6 5.2 L57.8 5.7Z" fill="url(#g3)" stroke="#fff" stroke-width="0.7" stroke-linejoin="round"/>
<path d="M71.5 7.5 L71.3 9.0 L70.8 10.5 L69.9 11.8 L68.8 12.9 L67.5 13.8 L66.0 14.3 L64.5 14.5 L63.0 14.3 L61.5 13.8 L60.2 12.9 L59.1 11.8 L58.3 10.7 L57.8 5.7 L58.2 4.5 L59.1 3.2 L60.2 2.1 L61.5 1.2 L63.0 0.7 L64.5 0.5 L66.0 0.7 L67.5 1.2 L68.8 2.1 L69.9 3.2 L70.8 4.5 L71.3 6.0Z" fill="url(#g6)" stroke="#fff" stroke-width="0.7" stroke-linejoin="round"/>
<path d="M26.4 19.0 L26.2 21.2 L25.5 23.3 L24.5 25.1 L23.9 25.8 L18.9 28.7 L17.5 28.9 L15.5 28.6 L13.6 27.9 L11.9 26.7 L10.5 25.1 L9.5 23.3 L8.8 21.2 L8.6 19.0 L8.8 16.8 L9.5 14.7 L10.5 12.9 L11.9 11.3 L13.6 10.1 L15.5 9.4 L17.5 9.1 L19.5 9.4 L21.4 10.1 L23.1 11.3 L24.5 12.9 L25.5 14.7 L26.2 16.8Z" fill="url(#g3)" stroke="#fff" stroke-width="0.7" stroke-linejoin="round"/>
<path d="M34.9 33.7 L34.7 35.4 L34.0 37.0 L33.0 38.4 L31.6 39.6 L29.9 40.5 L28.0 41.1 L26.0 41.2 L24.0 41.1 L22.1 40.5 L20.4 39.6 L19.0 38.4 L18.0 37.0 L17.3 35.4 L17.1 33.7 L17.3 32.0 L18.0 30.4 L19.0 29.0 L20.4 27.8 L20.7 27.7 L22.1 26.9 L24.0 26.3 L26.0 26.2 L28.0 26.3 L29.9 26.9 L31.6 27.8 L33.0 29.0 L34.0 30.4 L34.7 32.0Z" fill="url(#g6)" stroke="#fff" stroke-width="0.7" stroke-linejoin="round"/>
<path d="M58.7 34.6 L57.6 35.3 L56.1 35.8 L55.0 35.9 L47.7 31.2 L47.5 30.5 L47.3 29.0 L47.5 27.5 L48.0 26.0 L48.9 24.7 L50.0 23.6 L51.4 22.7 L52.9 22.2 L54.5 22.0 L56.1 22.2 L57.6 22.7 L59.0 23.6 L60.1 24.7 L61.0 26.0 L61.5 27.5 L61.6 28.5Z" fill="url(#g6)" stroke="#fff" stroke-width="0.7" stroke-linejoin="round"/>
<path d="M74.1 34.5 L73.9 36.0 L73.3 37.4 L72.3 38.7 L71.1 39.8 L69.5 40.6 L69.1 40.7 L59.0 37.9 L58.7 37.4 L58.1 36.0 L58.1 35.9 L61.4 29.0 L62.5 28.4 L64.2 27.9 L66.0 27.8 L67.8 27.9 L69.5 28.4 L71.1 29.2 L72.3 30.3 L73.3 31.6 L73.9 33.0Z" fill="url(#g6)" stroke="#fff" stroke-width="0.7" stroke-linejoin="round"/>
<path d="M56.0 37.5 L55.8 38.8 L55.3 40.0 L54.4 41.1 L53.4 42.0 L46.8 43.0 L46.0 42.7 L44.7 42.0 L43.6 41.1 L42.7 40.0 L42.2 38.8 L42.0 37.5 L42.2 36.2 L42.7 35.0 L43.6 33.9 L44.7 33.0 L46.0 32.3 L47.5 31.8 L48.5 31.7 L55.8 36.5Z" fill="url(#g6)" stroke="#fff" stroke-width="0.7" stroke-linejoin="round"/>
<path d="M71.1 45.2 L70.9 47.0 L70.3 48.6 L69.3 50.1 L68.1 51.4 L66.5 52.3 L64.8 52.9 L63.0 53.1 L61.2 52.9 L59.5 52.3 L57.9 51.4 L57.1 50.6 L55.2 43.0 L55.7 41.8 L56.7 40.3 L57.9 39.0 L59.5 38.1 L59.6 38.0 L69.7 40.9 L70.3 41.8 L70.9 43.4Z" fill="url(#g6)" stroke="#fff" stroke-width="0.7" stroke-linejoin="round"/>
<path d="M57.0 50.3 L56.7 51.4 L56.5 51.6 L48.8 55.2 L47.7 54.8 L46.4 53.9 L45.3 52.8 L44.5 51.4 L44.0 49.9 L43.9 48.3 L44.0 46.7 L44.5 45.2 L45.3 43.8 L46.0 43.1 L53.7 41.9 L54.8 42.7 L55.3 43.2Z" fill="url(#g6)" stroke="#fff" stroke-width="0.7" stroke-linejoin="round"/>
<path d="M62.2 58.3 L62.0 59.8 L61.5 61.3 L60.6 62.6 L59.5 63.7 L58.2 64.6 L56.7 65.1 L55.2 65.3 L53.7 65.1 L52.2 64.6 L50.9 63.7 L49.8 62.6 L48.9 61.3 L48.4 59.8 L48.2 58.3 L48.4 56.8 L48.9 55.3 L49.1 55.1 L56.8 51.5 L58.2 52.0 L59.5 52.9 L60.6 54.0 L61.5 55.3 L62.0 56.8Z" fill="url(#g6)" stroke="#fff" stroke-width="0.7" stroke-linejoin="round"/>
<path d="M31.2 52.0 L31.1 53.3 L30.6 54.5 L29.9 55.6 L29.0 56.5 L27.8 57.2 L26.5 57.7 L25.2 57.8 L23.9 57.7 L22.6 57.2 L21.4 56.5 L20.5 55.6 L19.8 54.5 L19.3 53.3 L19.2 52.0 L19.3 50.7 L19.8 49.5 L20.5 48.4 L21.4 47.5 L22.6 46.8 L23.9 46.3 L25.2 46.2 L26.5 46.3 L27.8 46.8 L29.0 47.5 L29.9 48.4 L30.6 49.5 L31.1 50.7Z" fill="url(#g6)" stroke="#fff" stroke-width="0.7" stroke-linejoin="round"/>
<path d="M47.2 70.5 L47.0 71.7 L46.3 72.8 L45.3 73.8 L43.9 74.7 L42.2 75.3 L40.3 75.7 L38.3 75.8 L36.3 75.7 L34.4 75.3 L32.7 74.7 L31.3 73.8 L30.3 72.8 L29.6 71.7 L29.4 70.5 L29.6 69.3 L30.3 68.2 L31.3 67.2 L32.7 66.3 L34.4 65.7 L36.3 65.3 L38.3 65.2 L40.3 65.3 L42.2 65.7 L43.9 66.3 L45.3 67.2 L46.3 68.2 L47.0 69.3Z" fill="url(#g3)" stroke="#fff" stroke-width="0.7" stroke-linejoin="round"/>
<path d="M74.2 21.4 L74.1 21.8 L74.0 22.2 L73.9 22.6 L73.7 22.9 L73.5 23.1 L73.3 23.2 L73.0 23.3 L72.7 23.2 L72.5 23.1 L72.3 22.9 L72.1 22.6 L72.0 22.2 L71.9 21.8 L71.8 21.4 L71.9 21.0 L72.0 20.6 L72.1 20.2 L72.3 19.9 L72.5 19.7 L72.7 19.6 L73.0 19.5 L73.3 19.6 L73.5 19.7 L73.7 19.9 L73.9 20.2 L74.0 20.6 L74.1 21.0Z" fill="url(#g2)" stroke="#fff" stroke-width="0.7" stroke-linejoin="round"/>
</g></g></g>
<text x="-0.2" y="13.7" font-size="17.5">A</text>
<text x="-0.5" y="292.6" font-size="17.5">B</text>
<text x="283.8" y="12.6" font-size="17.5">C</text>
<text class="lab" transform="translate(13.3,174.8) rotate(-90)" style="font-size:13.7px" textLength="98.6" lengthAdjust="spacingAndGlyphs">Differentiation</text>
<text class="lab" style="font-size:12.3px" transform="translate(37.9,88.8) rotate(-90)">Day 0</text>
<text class="lab" style="font-size:12.3px" transform="translate(37.9,165.4) rotate(-90)">Day 2</text>
<text class="lab" style="font-size:12.3px" transform="translate(37.9,242.3) rotate(-90)">Day 4</text>
<line x1="18.7" y1="25" x2="18.7" y2="227" stroke="#000" stroke-width="1.5"/>
<path d="M18.6 240.2 Q17.2 229 12.0 219.8 L18.6 224.6 L25.2 219.8 Q20 229 18.6 240.2 Z" fill="#000"/>
<text class="lab" x="44.5" y="256.2">RXR+EtOH</text>
<text class="lab" x="120.4" y="256.2">RXR+4OHT</text>
<text class="lab" x="212.2" y="256.2">RXR+4OHT</text>
<text class="lab" x="229.0" y="271.7">+rapa</text>
<path d="M350.88 227.00 V224.50 M348.48 224.50 H353.27" stroke="#000" stroke-width="1.55" fill="none"/>
<rect x="343.75" y="227.00" width="14.25" height="3.00" fill="#000"/>
<path d="M400.82 111.25 V100.75 M398.43 100.75 H403.22" stroke="#000" stroke-width="1.55" fill="none"/>
<rect x="392.90" y="111.25" width="15.85" height="118.75" fill="#000"/>
<path d="M415.18 199.25 V196.75 M412.78 196.75 H417.57" stroke="#000" stroke-width="1.55" fill="none"/>
<rect x="409.25" y="199.75" width="11.85" height="30.25" fill="#fff" stroke="#000" stroke-width="1.3"/>
<path d="M429.70 132.50 V130.00 M427.30 130.00 H432.10" stroke="#000" stroke-width="1.55" fill="none"/>
<rect x="422.10" y="133.00" width="15.20" height="97.00" fill="#999" stroke="#000" stroke-width="1.3"/>
<path d="M465.88 58.20 V57.00 M463.48 57.00 H468.27" stroke="#000" stroke-width="1.55" fill="none"/>
<rect x="458.00" y="58.20" width="15.75" height="171.80" fill="#000"/>
<path d="M480.62 188.00 V181.25 M478.23 181.25 H483.02" stroke="#000" stroke-width="1.55" fill="none"/>
<rect x="474.25" y="188.50" width="12.75" height="41.50" fill="#fff" stroke="#000" stroke-width="1.3"/>
<path d="M495.25 67.50 V64.50 M492.85 64.50 H497.65" stroke="#000" stroke-width="1.55" fill="none"/>
<rect x="488.00" y="68.00" width="14.50" height="162.00" fill="#999" stroke="#000" stroke-width="1.3"/>
<rect x="317.6" y="45.5" width="195.79999999999995" height="184.5" fill="none" stroke="#000" stroke-width="1.5"/>
<text class="tk" text-anchor="end" transform="translate(312.0,233.10) scale(0.675,1)">0</text>
<text class="tk" text-anchor="end" transform="translate(314.4,214.65) scale(0.675,1)">10</text>
<text class="tk" text-anchor="end" transform="translate(314.4,196.20) scale(0.675,1)">20</text>
<text class="tk" text-anchor="end" transform="translate(314.4,177.75) scale(0.675,1)">30</text>
<text class="tk" text-anchor="end" transform="translate(314.4,159.30) scale(0.675,1)">40</text>
<text class="tk" text-anchor="end" transform="translate(314.4,140.85) scale(0.675,1)">50</text>
<text class="tk" text-anchor="end" transform="translate(314.4,122.40) scale(0.675,1)">60</text>
<text class="tk" text-anchor="end" transform="translate(314.4,103.95) scale(0.675,1)">70</text>
<text class="tk" text-anchor="end" transform="translate(314.4,85.50) scale(0.675,1)">80</text>
<text class="tk" text-anchor="end" transform="translate(314.4,67.05) scale(0.675,1)">90</text>
<text class="tk" text-anchor="end" transform="translate(317.0,48.60) scale(0.675,1)">100</text>
<text class="tk" text-anchor="middle" transform="translate(351.5,243.2) scale(0.675,1)">0</text>
<text class="tk" text-anchor="middle" transform="translate(416.9,243.2) scale(0.675,1)">2</text>
<text class="tk" text-anchor="middle" transform="translate(482,243.2) scale(0.675,1)">4</text>
<text class="lab" style="font-size:12.1px" x="404.3" y="252.9">Day</text>
<text class="lab" x="336.4" y="38.7" style="font-size:12.45px">CD11b surface expression</text>
<text class="lab" transform="translate(297.1,163.3) rotate(-90)">%CD11b<tspan font-size="6.5" dy="-4.6" dx="-0.4">hi</tspan></text>
<rect x="324.4" y="51.50" width="7.0" height="7.0" fill="#000" stroke="#000" stroke-width="0.8"/>
<text class="leg" style="font-size:10.1px" x="335.3" y="58.70">RXR+EtOH</text>
<rect x="324.4" y="66.50" width="7.0" height="7.0" fill="#fff" stroke="#777" stroke-width="0.8"/>
<text class="leg" style="font-size:10.1px" x="335.3" y="73.70">RXR+4OHT</text>
<rect x="324.4" y="81.50" width="7.0" height="7.0" fill="#999" stroke="#666" stroke-width="0.8"/>
<text class="leg" style="font-size:10.1px" x="335.3" y="88.70">RXR+4OHT+rapa</text>
<rect x="79.50" y="344.50" width="13.50" height="152.20" fill="#000"/>
<path d="M134.50 458.00 V452.00 M132.10 452.00 H136.90" stroke="#000" stroke-width="1.55" fill="none"/>
<rect x="127.00" y="458.00" width="15.00" height="38.70" fill="#000"/>
<path d="M149.12 416.25 V407.50 M146.72 407.50 H151.53" stroke="#000" stroke-width="1.55" fill="none"/>
<rect x="142.50" y="416.75" width="13.25" height="79.95" fill="#fff" stroke="#000" stroke-width="1.3"/>
<path d="M163.50 449.50 V434.50 M161.10 434.50 H165.90" stroke="#000" stroke-width="1.55" fill="none"/>
<rect x="156.75" y="450.00" width="13.50" height="46.70" fill="#999" stroke="#000" stroke-width="1.3"/>
<path d="M198.12 492.50 V491.60 M195.72 491.60 H200.53" stroke="#000" stroke-width="1.55" fill="none"/>
<rect x="190.75" y="492.50" width="14.75" height="4.20" fill="#000"/>
<path d="M212.75 418.75 V406.75 M210.35 406.75 H215.15" stroke="#000" stroke-width="1.55" fill="none"/>
<rect x="206.00" y="419.25" width="13.50" height="77.45" fill="#fff" stroke="#000" stroke-width="1.3"/>
<path d="M227.12 470.50 V459.25 M224.72 459.25 H229.53" stroke="#000" stroke-width="1.55" fill="none"/>
<rect x="220.50" y="471.00" width="13.25" height="25.70" fill="#999" stroke="#000" stroke-width="1.3"/>
<rect x="53.75" y="314.1" width="190.55" height="182.59999999999997" fill="none" stroke="#000" stroke-width="1.5"/>
<text class="tk" text-anchor="end" transform="translate(46.5,500.10) scale(0.76,1)">0</text>
<line x1="53.75" y1="496.7" x2="55.95" y2="496.7" stroke="#000" stroke-width="0.9"/>
<text class="tk" text-anchor="end" transform="translate(50.6,470.17) scale(0.76,1)">0.2</text>
<line x1="53.75" y1="466.26666666666665" x2="55.95" y2="466.26666666666665" stroke="#000" stroke-width="0.9"/>
<text class="tk" text-anchor="end" transform="translate(50.6,439.73) scale(0.76,1)">0.4</text>
<line x1="53.75" y1="435.8333333333333" x2="55.95" y2="435.8333333333333" stroke="#000" stroke-width="0.9"/>
<text class="tk" text-anchor="end" transform="translate(50.6,409.30) scale(0.76,1)">0.6</text>
<line x1="53.75" y1="405.4" x2="55.95" y2="405.4" stroke="#000" stroke-width="0.9"/>
<text class="tk" text-anchor="end" transform="translate(50.6,378.87) scale(0.76,1)">0.8</text>
<line x1="53.75" y1="374.96666666666664" x2="55.95" y2="374.96666666666664" stroke="#000" stroke-width="0.9"/>
<text class="tk" text-anchor="end" transform="translate(46.5,348.63) scale(0.76,1)">1</text>
<line x1="53.75" y1="344.5333333333333" x2="55.95" y2="344.5333333333333" stroke="#000" stroke-width="0.9"/>
<text class="tk" text-anchor="end" transform="translate(50.6,317.40) scale(0.76,1)">1.2</text>
<line x1="53.75" y1="314.1" x2="55.95" y2="314.1" stroke="#000" stroke-width="0.9"/>
<text class="tk" text-anchor="middle" transform="translate(87.0,510.2) scale(0.76,1)">0</text>
<text class="tk" text-anchor="middle" transform="translate(150.5,510.2) scale(0.76,1)">2</text>
<text class="tk" text-anchor="middle" transform="translate(213.75,510.2) scale(0.76,1)">4</text>
<text class="lab" style="font-size:12.1px" x="139.2" y="522.4">Day</text>
<text class="lab" style="font-size:12.35px" x="117.7" y="308.3"><tspan class="it">Mpo</tspan> mRNA</text>
<text class="lab" style="font-size:12.35px" transform="translate(27.2,487.3) rotate(-90)">fold change (relative to D0)</text>
<rect x="146.4" y="320.90" width="7.6" height="7.0" fill="#000" stroke="#000" stroke-width="0.8"/>
<text class="leg" style="font-size:10.4px" x="157.3" y="328.10">RXR+EtOH</text>
<rect x="146.4" y="336.50" width="7.6" height="7.0" fill="#fff" stroke="#777" stroke-width="0.8"/>
<text class="leg" style="font-size:10.4px" x="157.3" y="343.70">RXR+4OHT</text>
<rect x="146.4" y="352.10" width="7.6" height="7.0" fill="#999" stroke="#666" stroke-width="0.8"/>
<text class="leg" style="font-size:10.4px" x="157.3" y="359.30">RXR+4OHT+rapa</text>
<rect x="353.00" y="490.75" width="14.50" height="4.85" fill="#000"/>
<path d="M408.75 410.50 V385.00 M406.35 385.00 H411.15" stroke="#000" stroke-width="1.55" fill="none"/>
<rect x="401.25" y="410.50" width="15.00" height="85.10" fill="#000"/>
<path d="M423.12 478.25 V470.00 M420.73 470.00 H425.52" stroke="#000" stroke-width="1.55" fill="none"/>
<rect x="416.75" y="478.75" width="12.75" height="16.85" fill="#fff" stroke="#000" stroke-width="1.3"/>
<path d="M437.25 444.25 V422.50 M434.85 422.50 H439.65" stroke="#000" stroke-width="1.55" fill="none"/>
<rect x="430.50" y="444.75" width="13.50" height="50.85" fill="#999" stroke="#000" stroke-width="1.3"/>
<path d="M472.75 366.75 V342.00 M470.35 342.00 H475.15" stroke="#000" stroke-width="1.55" fill="none"/>
<rect x="465.00" y="366.75" width="15.50" height="128.85" fill="#000"/>
<path d="M487.50 473.00 V458.75 M485.10 458.75 H489.90" stroke="#000" stroke-width="1.55" fill="none"/>
<rect x="481.00" y="473.50" width="13.00" height="22.10" fill="#fff" stroke="#000" stroke-width="1.3"/>
<path d="M501.62 396.25 V363.00 M499.23 363.00 H504.02" stroke="#000" stroke-width="1.55" fill="none"/>
<rect x="495.00" y="396.75" width="13.25" height="98.85" fill="#999" stroke="#000" stroke-width="1.3"/>
<rect x="327.2" y="313" width="186.59999999999997" height="182.60000000000002" fill="none" stroke="#000" stroke-width="1.5"/>
<text class="tk" text-anchor="end" transform="translate(321.4,499.20) scale(0.76,1)">0</text>
<line x1="327.2" y1="495.6" x2="329.4" y2="495.6" stroke="#000" stroke-width="0.9"/>
<text class="tk" text-anchor="end" transform="translate(321.4,472.51) scale(0.76,1)">5</text>
<line x1="327.2" y1="469.51428571428573" x2="329.4" y2="469.51428571428573" stroke="#000" stroke-width="0.9"/>
<text class="tk" text-anchor="end" transform="translate(323.0,446.53) scale(0.76,1)">10</text>
<line x1="327.2" y1="443.42857142857144" x2="329.4" y2="443.42857142857144" stroke="#000" stroke-width="0.9"/>
<text class="tk" text-anchor="end" transform="translate(323.0,420.44) scale(0.76,1)">15</text>
<line x1="327.2" y1="417.34285714285716" x2="329.4" y2="417.34285714285716" stroke="#000" stroke-width="0.9"/>
<text class="tk" text-anchor="end" transform="translate(323.0,394.36) scale(0.76,1)">20</text>
<line x1="327.2" y1="391.25714285714287" x2="329.4" y2="391.25714285714287" stroke="#000" stroke-width="0.9"/>
<text class="tk" text-anchor="end" transform="translate(323.0,368.27) scale(0.76,1)">25</text>
<line x1="327.2" y1="365.1714285714286" x2="329.4" y2="365.1714285714286" stroke="#000" stroke-width="0.9"/>
<text class="tk" text-anchor="end" transform="translate(323.0,342.19) scale(0.76,1)">30</text>
<line x1="327.2" y1="339.0857142857143" x2="329.4" y2="339.0857142857143" stroke="#000" stroke-width="0.9"/>
<text class="tk" text-anchor="end" transform="translate(323.4,316.90) scale(0.76,1)">35</text>
<line x1="327.2" y1="313.0" x2="329.4" y2="313.0" stroke="#000" stroke-width="0.9"/>
<text class="tk" text-anchor="middle" transform="translate(360.5,508.9) scale(0.76,1)">0</text>
<text class="tk" text-anchor="middle" transform="translate(424.8,508.9) scale(0.76,1)">2</text>
<text class="tk" text-anchor="middle" transform="translate(489.4,508.9) scale(0.76,1)">4</text>
<text class="lab" style="font-size:12.1px" x="411.8" y="522.4">Day</text>
<text class="lab" style="font-size:12.05px" x="388" y="307.6"><tspan class="it">Ngal</tspan> mRNA</text>
<text class="lab" style="font-size:12.35px" transform="translate(304.5,489.4) rotate(-90)">fold change (relative to D0)</text>
</svg></body></html>
